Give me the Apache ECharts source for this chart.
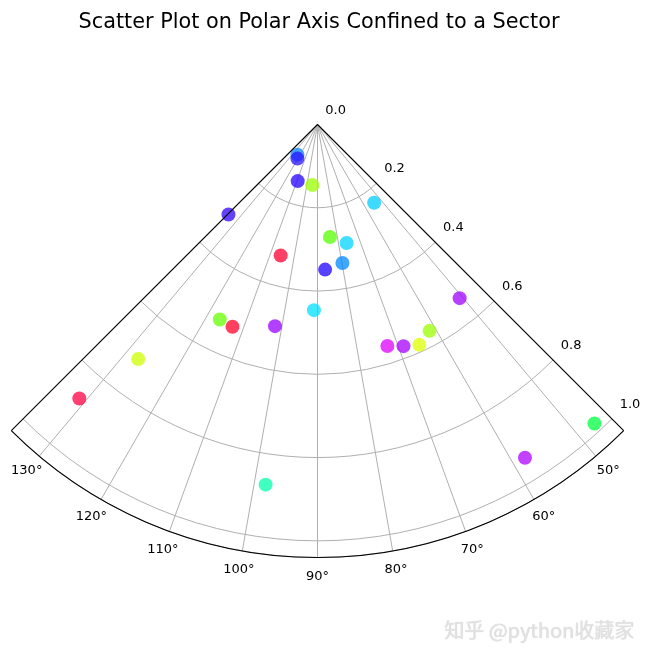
<!DOCTYPE html>
<html>
<head>
<meta charset="utf-8">
<script src="https://cdn.jsdelivr.net/npm/echarts@6/dist/echarts.min.js"></script>
<style>html,body{margin:0;padding:0;background:#fff;}#c{width:650px;height:657px;}</style>
</head>
<body>
<div id="c"></div>
<script>
// ---- data ----
const titleText = 'Scatter Plot on Polar Axis Confined to a Sector';
const watermarkText = '知乎 @python收藏家';
const thetaValues = [123.7, 120.5, 109.3, 94.9, 54.1, 83.7, 76.2, 79.8, 87.0, 91.1, 50.7, 61.5, 72.5, 68.8, 65.2, 47.2, 134.7, 105.7, 116.6, 112.8, 101.9, 127.4, 131.0, 98.2, 58.1];
const rValues     = [0.087, 0.095, 0.144, 0.146, 0.232, 0.272, 0.293, 0.338, 0.349, 0.446, 0.539, 0.564, 0.558, 0.571, 0.583, 0.979, 0.304, 0.327, 0.524, 0.527, 0.495, 0.709, 0.872, 0.874, 0.943];
const pointColors = ['#0a86ff', '#2a10ff', '#2600ff', '#99ff00', '#00ccff', '#55ff00', '#00d4ff', '#0088ff', '#2000ff', '#00e0ff', '#a000ff', '#99ff00', '#dd00ff', '#a800ff', '#ddff00', '#00ff40', '#3000ff', '#ff0030', '#66ff00', '#ff0028', '#9900ff', '#ccff00', '#ff0040', '#00ffaa', '#b000ff'];
const angleTicks = [50, 60, 70, 80, 90, 100, 110, 120, 130];
const radiusTicks = [0.0, 0.2, 0.4, 0.6, 0.8, 1.0];
const thetaMin = 45, thetaMax = 135, rMax = 1.04;

const chart = echarts.init(document.getElementById('c'), null, {renderer: 'canvas'});
const FONT = 'DejaVu Sans';
const center = [317.5, 124.5];
const R = 433;
const angleLabelR = 1.0865; // radial position (data units) of angle tick labels

const data = thetaValues.map((t, i) => ({
  value: [rValues[i], t],
  itemStyle: {color: pointColors[i]}
}));

chart.setOption({
  backgroundColor: '#fff',
  animation: false,
  graphic: [
    {type: 'text', x: 319, y: 23, style: {text: titleText, font: '20.8px "DejaVu Sans"', fill: '#000', align: 'center', verticalAlign: 'middle'}},
    {type: 'text', x: 539, y: 630, style: {text: watermarkText, font: '20px "Noto Sans CJK SC"', fill: '#e2e2e2', align: 'center', verticalAlign: 'middle', textShadowColor: 'rgba(0,0,0,0.18)', textShadowBlur: 1, textShadowOffsetX: 0.5, textShadowOffsetY: 0.5}}
  ],
  polar: [
    {center: center, radius: [0, R]},
    {center: center, radius: [0, R]}
  ],
  angleAxis: [
    {
      polarIndex: 0, type: 'value', min: thetaMin, max: thetaMax, interval: 90,
      startAngle: -thetaMin, endAngle: -thetaMax, clockwise: true,
      axisLine: {show: true, lineStyle: {color: '#000', width: 1.1}},
      axisTick: {show: false}, axisLabel: {show: false},
      splitLine: {show: true, lineStyle: {color: '#000', width: 1.1}},
      z: 6
    },
    {
      polarIndex: 1, type: 'value', min: angleTicks[0], max: angleTicks[angleTicks.length - 1], interval: 10,
      startAngle: -angleTicks[0], endAngle: -angleTicks[angleTicks.length - 1], clockwise: true,
      axisLine: {show: false}, axisTick: {show: false},
      axisLabel: {show: false},
      splitLine: {show: true, lineStyle: {color: '#b0b0b0', width: 1}},
      z: 1
    }
  ],
  radiusAxis: [
    {
      polarIndex: 0, type: 'value', min: 0, max: rMax, interval: 0.2,
      axisLine: {show: false}, axisTick: {show: false},
      axisLabel: {show: true, margin: 11, align: 'left', verticalAlign: 'bottom', color: '#000', fontFamily: FONT, fontSize: 13,
        formatter: v => radiusTicks.some(t => Math.abs(t - v) < 1e-6) ? v.toFixed(1) : ''},
      splitLine: {show: true, lineStyle: {color: '#b0b0b0', width: 1}},
      z: 1
    },
    {polarIndex: 1, type: 'value', min: 0, max: rMax, show: false}
  ],
  series: [
    {
      type: 'scatter', coordinateSystem: 'polar', polarIndex: 0,
      symbolSize: 14, itemStyle: {opacity: 0.75},
      data: data, z: 5
    },
    {
      // angle tick labels, centred like matplotlib's
      type: 'scatter', coordinateSystem: 'polar', polarIndex: 1, silent: true, clip: false,
      symbolSize: 0, itemStyle: {opacity: 1},
      data: angleTicks.map(a => [angleLabelR, a]),
      label: {show: true, position: 'inside', color: '#000', opacity: 1, textBorderWidth: 0, fontFamily: FONT, fontSize: 13,
        align: 'center', verticalAlign: 'middle', formatter: p => p.value[1] + '°'},
      z: 4
    }
  ]
});
</script>
</body>
</html>
